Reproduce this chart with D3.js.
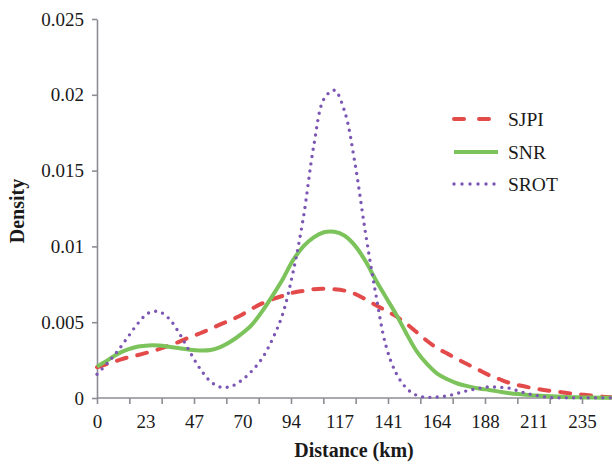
<!DOCTYPE html>
<html>
<head>
<meta charset="utf-8">
<script src="https://cdn.jsdelivr.net/npm/d3@7"></script>
<style>
  body { margin: 0; background: #fff; }
  svg { display: block; font-family: "Liberation Serif", "Times New Roman", serif; }
</style>
</head>
<body>
<svg id="chart"></svg>
<script>
// distance in km, sampled every 5 km
const distance = [0, 5, 10, 15, 20, 25, 30, 35, 40, 45, 50, 55, 60, 65, 70, 75, 80, 85, 90, 95,
    100, 105, 110, 115, 120, 125, 130, 135, 140, 145, 150, 155, 160, 165, 170, 175, 180, 185, 190, 195,
    200, 205, 210, 215, 220, 225, 230, 235, 240, 245, 250];

// densities (x 0.001)
const sjpi = [2.03, 2.25, 2.47, 2.68, 2.84, 3.02, 3.22, 3.46, 3.72, 4.01, 4.27, 4.56, 4.87, 5.15, 5.48, 5.88, 6.24, 6.51, 6.74, 6.95,
    7.07, 7.18, 7.20, 7.17, 7.08, 6.87, 6.52, 6.13, 5.77, 5.38, 4.89, 4.33, 3.76, 3.27, 2.91, 2.54, 2.19, 1.85, 1.51, 1.24,
    0.99, 0.82, 0.68, 0.56, 0.47, 0.38, 0.29, 0.22, 0.15, 0.09, 0.05];

const snr = [2.07, 2.48, 2.91, 3.21, 3.40, 3.47, 3.46, 3.38, 3.28, 3.18, 3.13, 3.16, 3.37, 3.74, 4.23, 4.83, 5.71, 6.74, 7.84, 9.09,
    10.00, 10.60, 10.93, 10.96, 10.70, 10.05, 9.05, 7.80, 6.64, 5.50, 4.23, 3.06, 2.23, 1.59, 1.22, 0.94, 0.77, 0.63, 0.53, 0.42,
    0.32, 0.25, 0.19, 0.15, 0.11, 0.08, 0.05, 0.04, 0.03, 0.02, 0.01];

const srot = [1.57, 2.29, 3.10, 4.03, 4.95, 5.61, 5.70, 5.22, 4.24, 3.04, 1.92, 1.09, 0.71, 0.77, 1.16, 1.78, 2.62, 3.88, 5.55, 8.30,
    11.90, 16.61, 19.73, 20.30, 18.90, 15.48, 10.97, 6.92, 3.45, 1.62, 0.64, 0.17, 0.05, 0.07, 0.15, 0.32, 0.50, 0.64, 0.73, 0.71,
    0.64, 0.43, 0.25, 0.12, 0.02, 0.01, 0.01, 0.01, 0.01, 0.01, 0.01];

const seriesNames = ["SJPI", "SNR", "SROT"];
const seriesColors = ["#e34b4b", "#7bc35a", "#7c56b4"];

const xTickValues = [0, 23.5, 47, 70.5, 94, 117.5, 141, 164.5, 188, 211.5, 235];
const xTickLabels = ["0", "23", "47", "70", "94", "117", "141", "164", "188", "211", "235"];
const yTickValues = [0, 0.005, 0.01, 0.015, 0.02, 0.025];
const yTickLabels = ["0", "0.005", "0.01", "0.015", "0.02", "0.025"];

/**
 * Draw the density chart
 */
function drawChart() {
    const width = 612, height = 464;
    const axisColor = "#8d8d95";

    const svg = d3.select("#chart")
        .attr("width", width)
        .attr("height", height);

    const xScale = d3.scaleLinear().domain([0, 235]).range([97, 582]);
    const yScale = d3.scaleLinear().domain([0, 0.025]).range([398, 19]);

    // x axis: tick marks every 2/3 label step, labels every 23.5 km
    const minorTicks = d3.range(0, 17).map(i => i * 235 / 15);
    svg.append("g")
        .attr("transform", "translate(0,398)")
        .call(d3.axisBottom(xScale).tickValues(minorTicks).tickSize(6).tickSizeOuter(0).tickFormat(""))
        .call(g => g.select(".domain").attr("d", "M97,0H612"));

    svg.append("g")
        .attr("transform", "translate(0,398)")
        .call(d3.axisBottom(xScale).tickValues(xTickValues).tickSize(0)
            .tickFormat((d, i) => xTickLabels[i]))
        .call(g => g.select(".domain").remove())
        .call(g => g.selectAll("text").attr("dy", 0).attr("y", 30));

    // y axis
    svg.append("g")
        .attr("transform", "translate(97,0)")
        .call(d3.axisLeft(yScale).tickValues(yTickValues).tickSize(5).tickSizeOuter(0)
            .tickFormat((d, i) => yTickLabels[i]))
        .call(g => g.selectAll("text").attr("x", -13));

    svg.selectAll(".domain, .tick line")
        .attr("stroke", axisColor)
        .attr("stroke-width", 1.6);
    svg.selectAll(".tick text")
        .attr("fill", "#1a1a1a")
        .style("font-size", "19px")
        .style("font-family", "'Liberation Serif', serif");

    // axis titles
    svg.append("text")
        .attr("x", 354)
        .attr("y", 457)
        .attr("text-anchor", "middle")
        .style("font-size", "20px")
        .style("font-weight", "bold")
        .attr("fill", "#1a1a1a")
        .text("Distance (km)");

    svg.append("text")
        .attr("transform", "translate(24,211) rotate(-90)")
        .attr("text-anchor", "middle")
        .style("font-size", "20px")
        .style("font-weight", "bold")
        .attr("fill", "#1a1a1a")
        .text("Density");

    // lines
    const line = d3.line()
        .x((d, i) => xScale(distance[i]))
        .y(d => yScale(d / 1000))
        .curve(d3.curveCatmullRom);

    const plot = svg.append("g");

    plot.append("path")
        .datum(sjpi)
        .attr("d", line)
        .attr("fill", "none")
        .attr("stroke", seriesColors[0])
        .attr("stroke-width", 4)
        .attr("stroke-linecap", "round")
        .attr("stroke-dasharray", "10,11");

    plot.append("path")
        .datum(snr)
        .attr("d", line)
        .attr("fill", "none")
        .attr("stroke", seriesColors[1])
        .attr("stroke-width", 4);

    plot.append("path")
        .datum(srot)
        .attr("d", line)
        .attr("fill", "none")
        .attr("stroke", seriesColors[2])
        .attr("stroke-width", 3.4)
        .attr("stroke-linecap", "round")
        .attr("stroke-dasharray", "0,7.3");

    // legend
    const legendY = [119, 152, 184];
    const dashes = ["10,15", null, "0,8"];
    const legend = svg.append("g");
    seriesNames.forEach((name, i) => {
        const ln = legend.append("line")
            .attr("x1", 454)
            .attr("x2", i == 1 ? 498 : 495)
            .attr("y1", legendY[i])
            .attr("y2", legendY[i])
            .attr("stroke", seriesColors[i])
            .attr("stroke-width", i == 2 ? 3.4 : 4);
        if (dashes[i]) {
            ln.attr("stroke-dasharray", dashes[i]).attr("stroke-linecap", "round");
        }
        legend.append("text")
            .attr("x", 508)
            .attr("y", legendY[i] + 6.5)
            .attr("fill", "#1a1a1a")
            .style("font-size", "19.5px")
            .text(name);
    });
}

drawChart();
</script>
</body>
</html>
